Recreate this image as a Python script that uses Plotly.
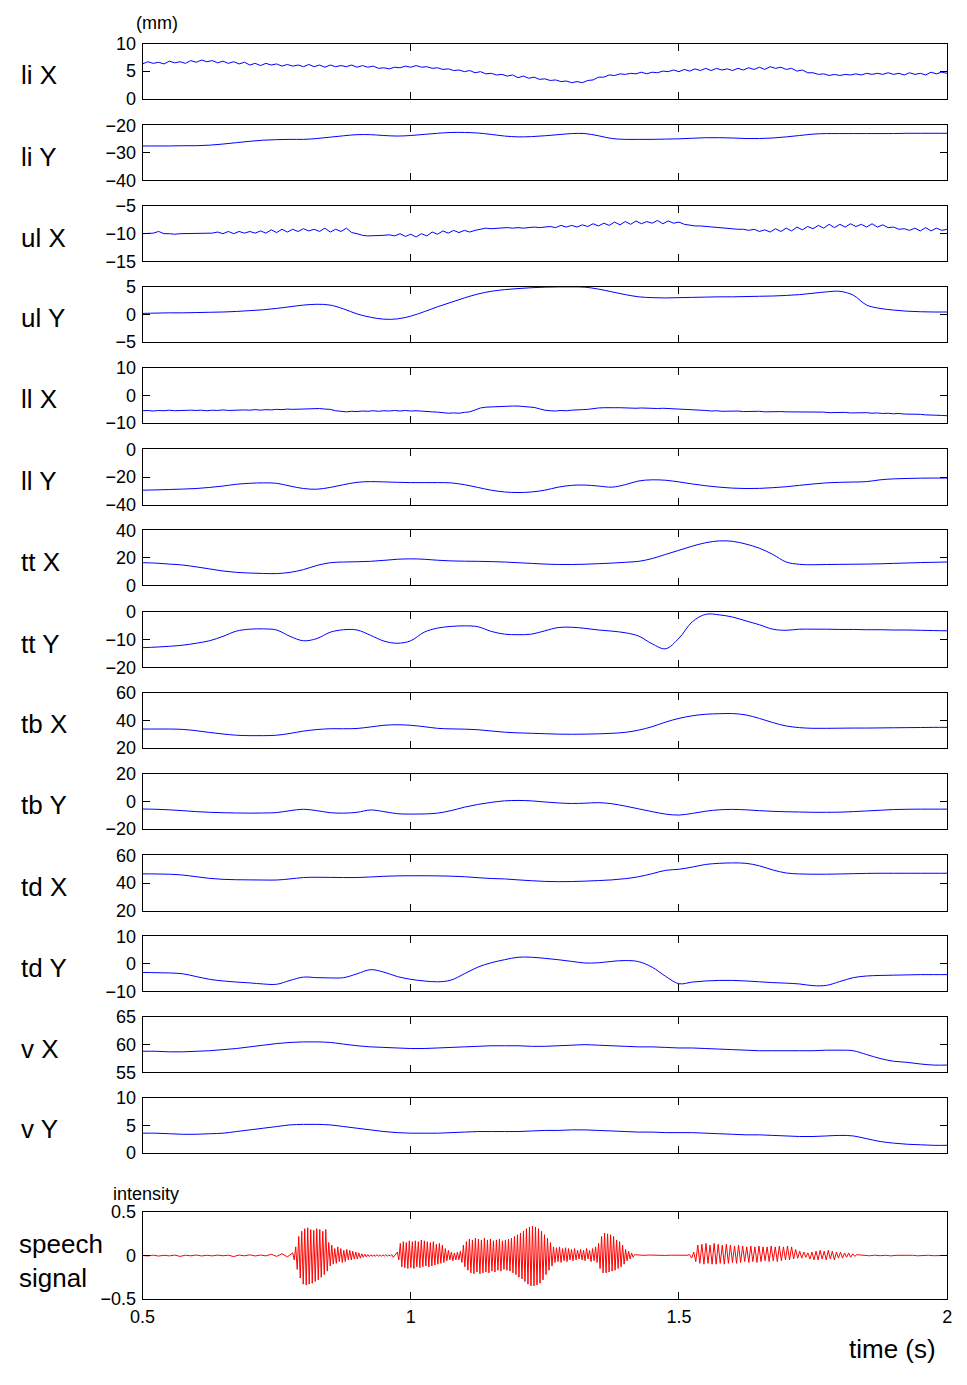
import numpy as np
import plotly.graph_objects as go

# page is 967 x 1385; the page body keeps an 8 px margin
PAGE_W, PAGE_H = 967, 1385
PAD = 8
W, H = PAGE_W - PAD, PAGE_H - 2 * PAD

# ---------------- data ----------------
T0 = 0.5
SMOOTH_STEP = 0.025   # 61 samples 0.5..2.0
NOISY_STEP = 0.01     # 151 samples 0.5..2.0

li_x = [6.3, 6.7, 6.4, 6.6, 6.3, 6.8, 6.5, 6.7, 6.4, 6.9,
        6.6, 7.0, 6.7, 6.9, 6.5, 6.8, 6.4, 6.7, 6.3, 6.6,
        6.1, 6.4, 6.0, 6.4, 6.1, 6.3, 5.9, 6.2, 5.9, 6.1,
        5.8, 6.2, 5.8, 6.1, 5.7, 6.1, 5.8, 6.0, 5.8, 6.1,
        5.7, 6.0, 5.7, 5.9, 5.5, 5.6, 5.4, 5.7, 5.6, 5.9,
        5.7, 6.0, 5.7, 5.8, 5.5, 5.6, 5.3, 5.4, 5.1, 5.2,
        4.9, 5.1, 4.7, 4.9, 4.5, 4.6, 4.3, 4.4, 4.1, 4.3,
        3.8, 4.1, 3.7, 3.9, 3.5, 3.6, 3.3, 3.4, 3.1, 3.2,
        2.9, 3.1, 2.9, 3.3, 3.4, 3.9, 3.9, 4.3, 4.2, 4.5,
        4.4, 4.6, 4.5, 4.8, 4.5, 4.8, 4.7, 5.0, 4.9, 5.2,
        4.9, 5.3, 5.0, 5.4, 5.1, 5.5, 5.1, 5.5, 5.2, 5.4,
        5.1, 5.5, 5.2, 5.6, 5.3, 5.7, 5.3, 5.8, 5.5, 5.7,
        5.3, 5.5, 5.0, 5.2, 4.7, 4.7, 4.4, 4.5, 4.2, 4.4,
        4.2, 4.4, 4.3, 4.5, 4.3, 4.6, 4.4, 4.6, 4.4, 4.7,
        4.4, 4.6, 4.3, 4.7, 4.4, 4.6, 4.3, 4.8, 4.5, 4.8,
        4.6]

li_y = [-27.5, -27.5, -27.5, -27.4, -27.4, -27.2, -26.8, -26.3, -25.8, -25.4,
        -25.2, -25.1, -25.1, -24.8, -24.3, -23.8, -23.4, -23.4, -23.7, -23.9,
        -23.7, -23.3, -22.9, -22.6, -22.6, -22.8, -23.3, -23.9, -24.2, -24.1,
        -23.8, -23.4, -23.0, -23.0, -23.8, -24.8, -25.1, -25.1, -25.1, -25.0,
        -24.9, -24.7, -24.5, -24.5, -24.6, -24.8, -24.8, -24.6, -24.2, -23.7,
        -23.2, -23.0, -23.0, -23.0, -23.0, -23.0, -23.0, -22.9, -22.9, -22.9,
        -22.9]

ul_x = [-10.0, -10.0, -9.9, -9.6, -10.0, -10.0, -10.1, -10.0, -10.0, -9.9,
        -10.0, -9.9, -10.0, -9.9, -9.7, -10.0, -9.6, -10.0, -9.6, -9.9,
        -9.6, -9.9, -9.5, -9.9, -9.3, -9.8, -9.2, -9.7, -9.2, -9.6,
        -9.1, -9.5, -9.2, -9.6, -9.0, -9.7, -9.2, -9.6, -9.0, -9.8,
        -10.0, -10.3, -10.4, -10.4, -10.4, -10.3, -10.2, -10.4, -10.0, -10.5,
        -10.1, -10.6, -10.0, -10.4, -9.7, -10.1, -9.5, -9.9, -9.4, -9.8,
        -9.4, -9.7, -9.4, -9.2, -9.0, -9.1, -9.0, -9.0, -8.9, -9.0,
        -8.9, -9.0, -8.9, -8.8, -8.9, -8.8, -8.7, -8.9, -8.5, -8.8,
        -8.5, -8.8, -8.4, -8.7, -8.2, -8.6, -8.1, -8.5, -7.9, -8.4,
        -7.8, -8.3, -7.7, -8.2, -7.8, -8.1, -7.6, -8.2, -7.7, -8.1,
        -7.9, -8.3, -8.5, -8.6, -8.6, -8.7, -8.8, -8.9, -9.0, -9.1,
        -9.1, -9.2, -9.2, -9.4, -9.2, -9.6, -9.3, -9.7, -9.1, -9.6,
        -9.0, -9.5, -8.8, -9.3, -8.7, -9.1, -8.5, -9.0, -8.3, -8.9,
        -8.3, -8.8, -8.2, -8.7, -8.3, -8.8, -8.2, -8.8, -8.4, -8.9,
        -8.8, -9.2, -9.1, -9.4, -9.0, -9.5, -8.9, -9.5, -9.0, -9.4,
        -9.2]

ul_y = [0.2, 0.25, 0.3, 0.3, 0.35, 0.4, 0.45, 0.55, 0.7, 0.85,
        1.1, 1.4, 1.7, 1.85, 1.7, 1.0, 0.1, -0.5, -0.85, -0.8,
        -0.3, 0.5, 1.4, 2.2, 3.0, 3.7, 4.2, 4.5, 4.7, 4.85,
        4.95, 5.0, 5.0, 4.95, 4.6, 4.1, 3.6, 3.2, 3.05, 3.0,
        3.05, 3.1, 3.15, 3.2, 3.2, 3.25, 3.3, 3.35, 3.45, 3.6,
        3.85, 4.1, 4.2, 3.5, 1.7, 1.1, 0.8, 0.6, 0.5, 0.45,
        0.45]

ll_x = [-5.6, -5.5, -5.7, -5.5, -5.6, -5.4, -5.6, -5.5, -5.6, -5.4,
        -5.5, -5.4, -5.6, -5.4, -5.5, -5.3, -5.5, -5.4, -5.5, -5.3,
        -5.4, -5.2, -5.4, -5.2, -5.3, -5.1, -5.2, -5.0, -5.1, -5.0,
        -5.0, -4.8, -4.9, -4.8, -5.0, -5.1, -5.6, -5.9, -6.0, -5.8,
        -5.9, -5.7, -5.8, -5.6, -5.8, -5.6, -5.7, -5.5, -5.7, -5.5,
        -5.7, -5.6, -5.8, -5.8, -6.0, -6.1, -6.3, -6.5, -6.4, -6.5,
        -6.2, -6.0, -5.3, -4.6, -4.3, -4.2, -4.0, -4.0, -3.9, -3.9,
        -3.9, -4.0, -4.1, -4.4, -4.9, -5.4, -5.6, -5.7, -5.5, -5.6,
        -5.4, -5.4, -5.2, -5.1, -4.8, -4.6, -4.5, -4.4, -4.5, -4.5,
        -4.6, -4.5, -4.7, -4.6, -4.7, -4.6, -4.8, -4.7, -4.8, -4.8,
        -5.0, -4.9, -5.1, -5.2, -5.4, -5.5, -5.7, -5.6, -5.8, -5.7,
        -5.8, -5.7, -5.9, -5.8, -5.9, -5.8, -6.0, -5.9, -6.0, -5.9,
        -6.0, -6.0, -6.1, -6.0, -6.2, -6.1, -6.2, -6.1, -6.3, -6.2,
        -6.3, -6.2, -6.4, -6.3, -6.4, -6.3, -6.5, -6.4, -6.6, -6.5,
        -6.7, -6.6, -6.8, -6.8, -7.0, -6.9, -7.1, -7.1, -7.3, -7.3,
        -7.4]

ll_y = [-29.5, -29.3, -29.0, -28.7, -28.3, -27.5, -26.5, -25.2, -24.5, -24.2,
        -24.5, -26.5, -28.3, -28.8, -27.5, -25.5, -23.8, -23.3, -23.5, -23.8,
        -24.0, -24.0, -24.0, -24.2, -25.5, -27.5, -29.5, -30.8, -31.2, -30.8,
        -29.5, -27.3, -26.0, -25.8, -26.5, -27.3, -25.5, -22.8, -22.0, -22.3,
        -23.5, -25.0, -26.3, -27.3, -28.0, -28.3, -28.2, -27.7, -27.0, -26.0,
        -25.0, -24.2, -23.8, -23.6, -23.3, -22.0, -21.3, -21.0, -20.8, -20.7,
        -20.7]

tt_x = [16.5, 16.2, 15.5, 14.8, 13.5, 12.0, 10.5, 9.5, 9.0, 8.7,
        8.6, 9.5, 11.5, 14.5, 16.5, 17.0, 17.2, 17.5, 18.2, 19.0,
        19.3, 19.0, 18.3, 17.8, 17.6, 17.5, 17.3, 17.0, 16.5, 16.0,
        15.5, 15.2, 15.2, 15.4, 15.8, 16.2, 16.8, 17.5, 19.5, 22.5,
        25.5, 28.5, 31.0, 32.3, 32.0, 30.0, 27.0, 22.5, 17.0, 15.3,
        15.0, 15.2, 15.3, 15.4, 15.5, 15.7, 16.0, 16.3, 16.6, 16.8,
        17.0]

tt_y = [-12.9, -12.7, -12.4, -12.0, -11.3, -10.4, -8.8, -6.9, -6.2, -6.1,
        -6.5, -8.8, -10.4, -9.6, -7.3, -6.4, -6.5, -8.4, -10.5, -11.3,
        -10.4, -7.3, -5.8, -5.2, -5.0, -5.3, -7.0, -8.0, -8.2, -8.0,
        -6.8, -5.6, -5.5, -5.9, -6.5, -6.9, -7.5, -8.7, -11.5, -13.3,
        -9.5, -3.5, -0.8, -1.0, -1.8, -3.2, -4.6, -6.2, -6.6, -6.2,
        -6.2, -6.2, -6.3, -6.3, -6.4, -6.4, -6.5, -6.5, -6.6, -6.7,
        -6.8]

tb_x = [33.8, 33.8, 33.8, 33.5, 32.6, 31.3, 30.2, 29.3, 29.0, 29.0,
        29.3, 30.6, 32.3, 33.4, 34.0, 34.0, 34.2, 35.3, 36.5, 36.9,
        36.5, 35.5, 34.3, 33.9, 33.7, 33.3, 32.4, 31.5, 31.0, 30.7,
        30.4, 30.1, 30.0, 30.1, 30.3, 30.7, 31.4, 33.0, 35.5, 38.8,
        41.5, 43.4, 44.5, 44.9, 45.0, 44.0, 41.5, 38.5, 36.0, 34.8,
        34.3, 34.3, 34.4, 34.5, 34.5, 34.6, 34.7, 34.8, 34.9, 35.0,
        35.0]

tb_y = [-5.6, -5.8, -6.2, -6.8, -7.5, -8.0, -8.3, -8.5, -8.6, -8.5,
        -8.2, -6.8, -5.8, -6.8, -8.3, -8.6, -8.0, -6.3, -7.5, -9.0,
        -9.3, -9.2, -8.6, -6.8, -4.3, -2.3, -0.8, 0.3, 0.6, 0.3,
        -0.5, -1.2, -1.6, -1.4, -1.0, -1.8, -3.5, -5.5, -7.5, -9.3,
        -10.0, -8.8, -7.2, -6.2, -5.9, -6.2, -6.8, -7.3, -7.6, -7.8,
        -8.0, -8.0, -7.9, -7.5, -7.0, -6.5, -6.0, -5.8, -5.7, -5.7,
        -5.7]

td_x = [46.7, 46.6, 46.4, 45.8, 44.6, 43.4, 42.7, 42.4, 42.3, 42.2,
        42.2, 43.0, 44.0, 44.2, 44.1, 44.0, 44.0, 44.4, 44.9, 45.2,
        45.3, 45.3, 45.2, 45.0, 44.6, 43.9, 43.3, 43.0, 42.3, 41.7,
        41.2, 41.0, 41.1, 41.4, 41.8, 42.3, 43.2, 44.6, 46.8, 49.2,
        50.0, 51.6, 53.5, 54.3, 54.6, 54.3, 52.5, 49.5, 47.3, 46.6,
        46.4, 46.4, 46.6, 46.8, 47.0, 47.1, 47.1, 47.1, 47.1, 47.1,
        47.1]

td_y = [-3.1, -3.2, -3.3, -3.6, -4.6, -5.6, -6.2, -6.6, -6.9, -7.3,
        -7.4, -6.0, -4.8, -5.0, -5.1, -5.0, -3.6, -2.1, -3.0, -4.6,
        -5.6, -6.2, -6.5, -5.9, -3.6, -1.2, 0.4, 1.5, 2.4, 2.4,
        2.0, 1.5, 0.9, 0.3, 0.4, 0.9, 1.2, 0.8, -1.2, -4.5,
        -7.2, -6.6, -6.2, -6.0, -6.0, -6.2, -6.5, -6.8, -7.0, -7.3,
        -7.9, -7.8, -6.4, -5.0, -4.4, -4.2, -4.1, -4.0, -3.9, -3.9,
        -3.9]

v_x = [58.8, 58.8, 58.7, 58.7, 58.8, 58.9, 59.1, 59.3, 59.6, 59.9,
       60.2, 60.4, 60.5, 60.5, 60.4, 60.1, 59.8, 59.6, 59.5, 59.4,
       59.3, 59.3, 59.4, 59.5, 59.6, 59.7, 59.8, 59.8, 59.8, 59.7,
       59.7, 59.8, 59.9, 60.0, 59.9, 59.8, 59.7, 59.6, 59.6, 59.5,
       59.4, 59.4, 59.3, 59.2, 59.1, 59.0, 58.9, 58.9, 58.9, 58.9,
       58.9, 59.0, 59.0, 58.9, 58.2, 57.5, 57.0, 56.8, 56.5, 56.3,
       56.3]

v_y = [3.6, 3.6, 3.5, 3.4, 3.4, 3.5, 3.6, 3.9, 4.2, 4.5,
       4.8, 5.1, 5.2, 5.2, 5.1, 4.8, 4.5, 4.2, 3.9, 3.7,
       3.6, 3.6, 3.6, 3.7, 3.8, 3.9, 3.9, 3.9, 3.9, 4.0,
       4.1, 4.1, 4.2, 4.2, 4.1, 4.0, 3.9, 3.8, 3.8, 3.7,
       3.7, 3.7, 3.6, 3.5, 3.4, 3.3, 3.3, 3.2, 3.1, 3.0,
       3.0, 3.1, 3.2, 3.1, 2.6, 2.1, 1.8, 1.6, 1.5, 1.4,
       1.4]

# speech waveform, stored as segments (start time, sample step, samples)
speech_starts = [0.5, 0.78, 0.975, 1.425, 1.52, 1.845]
speech_steps = [0.01, 0.0028, 0.0028, 0.01, 0.0038, 0.01]
speech_samples = [
    [0.0, -0.005, 0.004, -0.006, 0.003, -0.004, 0.005, -0.01, 0.004, -0.003,
     0.006, -0.005, 0.003, -0.004, 0.005, -0.003, 0.004, -0.012, 0.006, -0.003,
     0.008, -0.005, 0.006, -0.004, 0.015, -0.01, 0.02, -0.015],
    [0.03, -0.05, 0.10, -0.16, 0.22, -0.26, 0.28, -0.33, 0.31, -0.34,
     0.32, -0.33, 0.30, -0.32, 0.29, -0.30, 0.31, -0.28, 0.30, -0.25,
     0.28, -0.22, 0.30, -0.18, 0.15, -0.12, 0.12, -0.10, 0.08, -0.09,
     0.10, -0.07, 0.08, -0.08, 0.06, -0.07, 0.07, -0.05, 0.06, -0.05,
     0.05, -0.04, 0.04, -0.04, 0.03, -0.03, 0.02, -0.02, 0.015, -0.015,
     0.01, -0.012, 0.01, -0.01, 0.008, -0.01, 0.01, -0.008, 0.006, -0.01,
     0.008, -0.006, 0.01, -0.008, 0.006, -0.005, 0.01, -0.02],
    [0.04, -0.05,
     0.14, -0.13, 0.16, -0.14, 0.15, -0.15, 0.17, -0.14, 0.16, -0.15,
     0.17, -0.13, 0.16, -0.14, 0.18, -0.13, 0.17, -0.12, 0.16, -0.13,
     0.15, -0.12, 0.16, -0.11, 0.13, -0.10, 0.14, -0.09, 0.12,
     -0.08, 0.08, -0.06, 0.06, -0.05, 0.04, -0.06, 0.03, -0.05, 0.04, -0.05, 0.05,
     -0.08, 0.12, -0.13, 0.16, -0.17,
     0.19, -0.20, 0.18, -0.21, 0.20, -0.19, 0.19, -0.21, 0.18, -0.20,
     0.20, -0.19, 0.18, -0.20, 0.19, -0.18, 0.17, -0.19, 0.18, -0.17,
     0.19, -0.18, 0.17, -0.16, 0.18, -0.17, 0.19, -0.18, 0.20, -0.20,
     0.22, -0.22, 0.24, -0.25, 0.26, -0.27,
     0.28, -0.30, 0.31, -0.33, 0.33, -0.35, 0.34, -0.35, 0.33, -0.34,
     0.31, -0.32, 0.28, -0.28, 0.24, -0.22, 0.20, -0.17, 0.15, -0.12, 0.10,
     -0.08, 0.09, -0.07, 0.10, -0.08, 0.08, -0.06, 0.09, -0.07, 0.08,
     -0.05, 0.07, -0.06, 0.08, -0.05, 0.06, -0.04, 0.07, -0.05, 0.06,
     -0.06, 0.08, -0.04, 0.06, -0.07, 0.08, -0.06, 0.10, -0.08,
     0.14, -0.15, 0.22, -0.20, 0.26, -0.20, 0.25, -0.19, 0.24, -0.18,
     0.22, -0.17, 0.18, -0.15, 0.16, -0.13, 0.12, -0.10,
     0.07, -0.06, 0.05, -0.04, 0.03, -0.02, 0.01],
    [0.005, 0.002, 0.006, 0.003, 0.005, 0.001, 0.004, 0.002, 0.005, 0.003],
    [0.01, -0.03, 0.04,
     -0.07, 0.12, -0.09, 0.13, -0.10, 0.14, -0.09, 0.12, -0.10, 0.14,
     -0.10, 0.13, -0.09, 0.12, -0.10, 0.13, -0.09, 0.12, -0.08, 0.11,
     -0.09, 0.12, -0.08, 0.11, -0.07, 0.10, -0.08, 0.11, -0.07, 0.10,
     -0.08, 0.11, -0.07, 0.10, -0.06, 0.10, -0.07, 0.11, -0.06, 0.10,
     -0.07, 0.11, -0.06, 0.10, -0.05, 0.11, -0.05, 0.10, -0.04,
     0.07, -0.03, 0.05, -0.03, 0.04, -0.02, 0.03,
     -0.04, 0.04, -0.05, 0.05, -0.05, 0.06, -0.04, 0.05, -0.05, 0.06,
     -0.04, 0.05, -0.05, 0.04, -0.03, 0.04, -0.03, 0.03, -0.02, 0.03,
     -0.02, 0.02,
     -0.01, 0.01],
    [0.002, -0.003, 0.004, -0.002, 0.003, -0.004, 0.002, 0.003, -0.002, 0.003,
     -0.003, 0.002, 0.003, -0.002, 0.002, 0.001],
]

labels = ["li X", "li Y", "ul X", "ul Y", "ll X", "ll Y", "tt X", "tt Y",
          "tb X", "tb Y", "td X", "td Y", "v X", "v Y"]
series = [li_x, li_y, ul_x, ul_y, ll_x, ll_y, tt_x, tt_y,
          tb_x, tb_y, td_x, td_y, v_x, v_y]
y_ranges = [[0, 10], [-40, -20], [-15, -5], [-5, 5], [-10, 10], [-40, 0],
            [0, 40], [-20, 0], [20, 60], [-20, 20], [20, 60], [-10, 10],
            [55, 65], [0, 10]]
speech_range = [-0.5, 0.5]
x_ticks = [0.5, 1, 1.5, 2]
x_ticktext = ["0.5", "1", "1.5", "2"]

# ---------------- layout geometry (page pixels) ----------------
panel_px = [(42, 98), (125, 181), (207, 263), (289, 345), (371, 427), (454, 510),
            (536, 592), (619, 675), (701, 757), (783, 839), (866, 922), (948, 1004),
            (1030, 1086), (1112, 1168)]
speech_px = (1228, 1316)
X_LEFT, X_RIGHT = 140, 960


def py(p):
    return 1 - (p - PAD) / H


def px(p):
    return (p - PAD) / W


FONT = "Liberation Sans, Arial, sans-serif"
fig = go.Figure()
layout = dict(width=W, height=H, margin=dict(l=0, r=0, t=0, b=0),
              paper_bgcolor="white", plot_bgcolor="white",
              showlegend=False, font=dict(family=FONT, color="black", size=18))

annotations = []


def axis_common():
    return dict(showline=True, linecolor="black", linewidth=1, mirror="ticks",
                ticks="inside", ticklen=7, tickwidth=1, tickcolor="black",
                showgrid=False, zeroline=False)


all_panels = []
for i, (lab, vals, yr) in enumerate(zip(labels, series, y_ranges)):
    step = NOISY_STEP if len(vals) > 100 else SMOOTH_STEP
    t = T0 + step * np.arange(len(vals))
    all_panels.append((lab, t, vals, yr, panel_px[i], "blue",
                       "linear" if len(vals) > 100 else "spline"))

sp_t = np.concatenate([s + d * np.arange(len(v)) for s, d, v in
                       zip(speech_starts, speech_steps, speech_samples)])
sp_v = np.concatenate([np.array(v) for v in speech_samples])
all_panels.append(("speech<br>signal", sp_t, sp_v, speech_range, speech_px, "red", "linear"))

n = len(all_panels)
for i, (lab, t, vals, yr, (top, bot), col, shape) in enumerate(all_panels):
    k = i + 1
    xa = "xaxis" if k == 1 else f"xaxis{k}"
    ya = "yaxis" if k == 1 else f"yaxis{k}"
    xref = "x" if k == 1 else f"x{k}"
    yref = "y" if k == 1 else f"y{k}"
    fig.add_trace(go.Scatter(x=t, y=vals, mode="lines", xaxis=xref, yaxis=yref,
                             line=dict(color=col, width=1, shape=shape),
                             hoverinfo="skip"))
    last = (i == n - 1)
    xd = axis_common()
    xd.update(domain=[px(X_LEFT), px(X_RIGHT)], range=[0.5, 2.0], anchor=yref,
              tickvals=x_ticks, ticktext=x_ticktext, showticklabels=last,
              tickfont=dict(size=18, family=FONT, color="black"),
              ticklabelstandoff=2)
    yd = axis_common()
    mid = (yr[0] + yr[1]) / 2
    mid = int(mid) if float(mid).is_integer() else mid
    yd.update(domain=[py(bot), py(top)], range=yr, anchor=xref,
              tickvals=[yr[0], mid, yr[1]],
              tickfont=dict(size=18, family=FONT, color="black"),
              ticklabelstandoff=2)
    layout[xa] = xd
    layout[ya] = yd
    cy = (top + bot) / 2 + 4 if not last else 1278
    annotations.append(dict(text=lab, x=px(12 if last else 14), y=py(cy),
                            xref="paper", yref="paper", xanchor="left", yanchor="middle",
                            showarrow=False, align="left",
                            font=dict(size=26, family=FONT, color="black")))

annotations.append(dict(text="(mm)", x=px(155), y=py(21), xref="paper", yref="paper",
                        xanchor="center", yanchor="middle", showarrow=False,
                        font=dict(size=18, family=FONT, color="black")))
annotations.append(dict(text="intensity", x=px(144), y=py(1210), xref="paper", yref="paper",
                        xanchor="center", yanchor="middle", showarrow=False,
                        font=dict(size=18, family=FONT, color="black")))
annotations.append(dict(text="time (s)", x=px(904), y=py(1367), xref="paper", yref="paper",
                        xanchor="center", yanchor="middle", showarrow=False,
                        font=dict(size=26, family=FONT, color="black")))
layout["annotations"] = annotations
fig.update_layout(**layout)
fig.write_html("out.html")
